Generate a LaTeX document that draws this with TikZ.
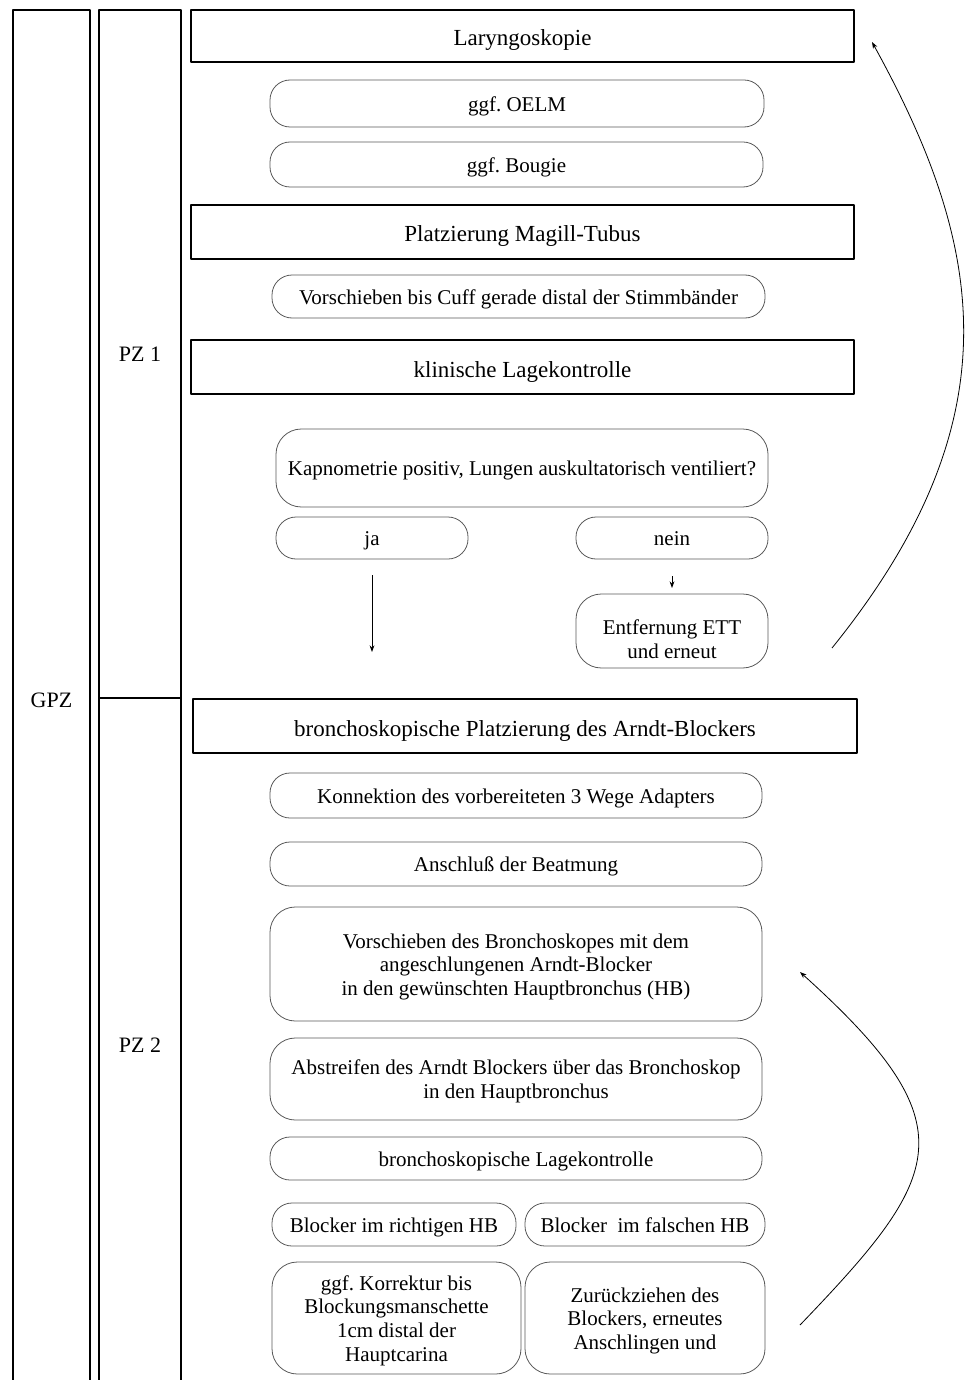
\documentclass[tikz,border=0pt]{standalone}
\usepackage{fontspec}
\setmainfont{Liberation Serif}
\usetikzlibrary{arrows.meta}
\frenchspacing
\newcommand{\lift}[1][15pt]{\rule{0pt}{#1}}
\begin{document}
\begin{tikzpicture}[x=0.75pt,y=-0.75pt,>={Stealth[length=5pt,width=3.6pt]},line join=round,
    every node/.style={inner sep=0pt,outer sep=0pt,align=center},
    sz/.style n args={2}{minimum width=#1*0.75pt,minimum height=#2*0.75pt},
    col/.style={draw,line width=1pt,font=\fontsize{16.5}{19}\selectfont},
    hbox/.style={draw,line width=1.2pt,font=\fontsize{17.25}{20}\selectfont,text height=19.5pt,text depth=4.5pt},
    rbox/.style={draw=black!65,line width=0.6pt,rounded corners=15pt,font=\fontsize{15.75}{17.7}\selectfont,text height=15pt,text depth=3.6pt},
    multi/.style={text height=,text depth=,rounded corners=19pt}]
    \useasboundingbox (0,0) rectangle (965,1380);
    % columns
    \node[col,sz={77}{1380}] (gpz) at (51.5,700) {GPZ};
    \node[col,sz={82}{688}] (pz1) at (140,354) {PZ 1};
    \node[col,sz={82}{694}] (pz2) at (140,1045) {PZ 2};
    % PZ 1
    \node[hbox,sz={663}{52}] (lary) at (522.5,36) {Laryngoskopie};
    \node[rbox,sz={494}{47}] (oelm) at (517,103.5) {ggf. OELM};
    \node[rbox,sz={493}{45}] (bougie) at (516.5,164.5) {ggf. Bougie};
    \node[hbox,sz={663}{54}] (magill) at (522.5,232) {Platzierung Magill-Tubus};
    \node[rbox,sz={493}{43}] (cuff) at (518.5,296.5) {Vorschieben bis Cuff gerade distal der Stimmbänder};
    \node[hbox,sz={663}{54}] (klin) at (522.5,367) {klinische Lagekontrolle};
    \node[rbox,sz={492}{78},rounded corners=19pt] (kapno) at (522,468) {Kapnometrie positiv, Lungen auskultatorisch ventiliert?};
    \node[rbox,sz={192}{42}] (ja) at (372,538) {ja};
    \node[rbox,sz={192}{42}] (nein) at (672,538) {nein};
    \node[rbox,multi,sz={192}{74}] (entf) at (672,631) {\lift[23pt]Entfernung ETT\\und erneut};
    \coordinate (jaend) at (372,652);
    \draw[->,line width=0.6pt,shorten <=12pt] (ja) -- (jaend);
    \draw[->,line width=0.6pt,shorten <=12.75pt,shorten >=4.5pt] (nein) -- (entf);
    \coordinate (retrya) at (832,648);
    \coordinate (retryb) at (872,42);
    \draw[->,line width=0.6pt] (retrya) .. controls (1017,419) and (984,245) .. (retryb);
    % PZ 2
    \node[hbox,sz={664}{54}] (arndt) at (525,726) {bronchoskopische Platzierung des Arndt-Blockers};
    \node[rbox,sz={492}{45}] (konn) at (516,795.5) {Konnektion des vorbereiteten 3 Wege Adapters};
    \node[rbox,sz={492}{44}] (ansch) at (516,864) {Anschluß der Beatmung};
    \node[rbox,multi,sz={492}{114}] (vorsch) at (516,964) {\lift Vorschieben des Bronchoskopes mit dem\\angeschlungenen Arndt-Blocker\\in den gewünschten Hauptbronchus (HB)};
    \node[rbox,multi,sz={492}{82}] (abstr) at (516,1079) {\lift Abstreifen des Arndt Blockers über das Bronchoskop\\in den Hauptbronchus};
    \node[rbox,sz={492}{43}] (bronch) at (516,1158.5) {bronchoskopische Lagekontrolle};
    \node[rbox,sz={244}{43}] (richtig) at (394,1224.5) {Blocker im richtigen HB};
    \node[rbox,sz={240}{43}] (falsch) at (645,1224.5) {Blocker\ \ im falschen HB};
    \node[rbox,multi,sz={249}{112}] (korr) at (396.5,1318) {\lift ggf. Korrektur bis\\Blockungsmanschette\\1cm distal der\\Hauptcarina};
    \node[rbox,multi,sz={240}{112}] (zurueck) at (645,1318) {\lift Zurückziehen des\\Blockers, erneutes\\Anschlingen und};
    \coordinate (againa) at (800,1325);
    \coordinate (againb) at (800,972);
    \draw[->,line width=0.6pt] (againa) .. controls (944,1175) and (971,1126) .. (againb);
\end{tikzpicture}
\end{document}
